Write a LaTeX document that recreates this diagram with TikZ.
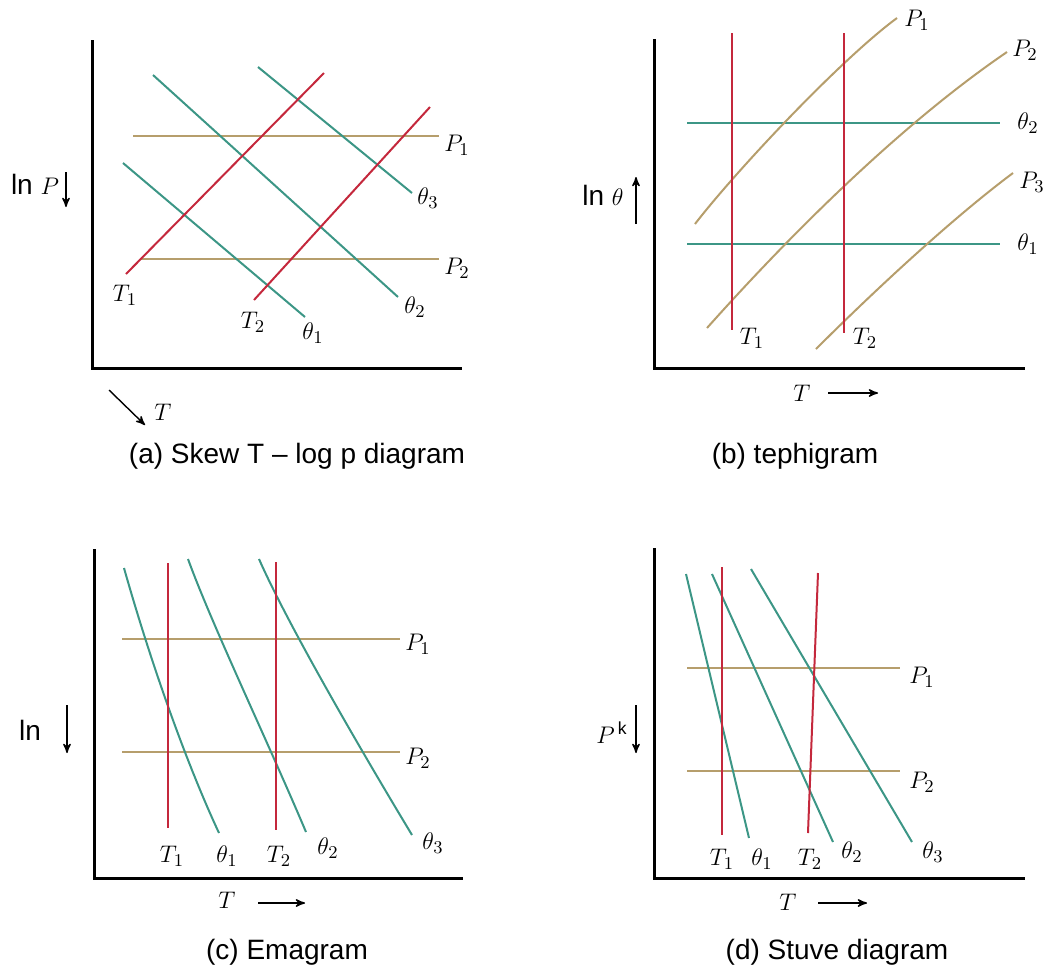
\documentclass[tikz,border=0pt]{standalone}
\usepackage{amsmath}
\usepackage{fontspec}
\setsansfont{Liberation Sans}
\usepackage{tikz}
\usetikzlibrary{arrows,calc}
\definecolor{tline}{RGB}{196,40,60}
\definecolor{thline}{RGB}{60,150,134}
\definecolor{pline}{RGB}{182,158,108}
\tikzset{axis/.style = {draw=black, line width=1.5pt, line join=miter},
         caption/.style = {font=\sffamily\fontsize{14}{16}\selectfont}}

\begin{document}
\begin{tikzpicture}[x=0.5pt, y=-0.5pt, iso/.style = {line width=1pt},
    lbl/.style = {font=\fontsize{12.5}{14}\selectfont, inner sep=0pt},
    dir/.style = {line width=0.7pt, -stealth'}]
\useasboundingbox (0,0) rectangle (1056,965);

% (a) skew T - log p
\draw[axis] (92,40) -- (92,368) -- (462,368);
\draw[iso, pline] (133,136) -- (439,136);
\draw[iso, pline] (140,259) -- (439,259);
\draw[iso, thline] (123,163) -- (305,317);
\draw[iso, thline] (153,75) -- (398,297);
\draw[iso, thline] (258,67) -- (412,193);
\draw[iso, tline] (126,274) -- (324,73);
\draw[iso, tline] (254,300) -- (430,107);
\node[lbl] (aP1) at (457,145) {$P_1$};
\node[lbl] (aP2) at (457,268) {$P_2$};
\node[lbl] (aT1) at (125,295) {$T_1$};
\node[lbl] (aT2) at (253,322) {$T_2$};
\node[lbl] (ath1) at (313,333) {$\theta_1$};
\node[lbl] (ath2) at (415,307) {$\theta_2$};
\node[lbl] (ath3) at (428,198) {$\theta_3$};
\node[caption] (ay) at (35,184) {ln \rmfamily\fontsize{13}{14}\selectfont$P$};
\draw[dir] (66,172) -- (66,207);
\draw[dir] (109,390) -- (145,425);
\node[lbl] (aT) at (163,412) {$T$};
\node[caption] (acap) at (297,456) {(a) Skew T – log p diagram};

% (b) tephigram
\draw[axis] (654,39) -- (654,368) -- (1025,368);
\draw[iso, thline] (687,123) -- (1000,123);
\draw[iso, thline] (687,244) -- (1000,244);
\draw[iso, pline] (695,224) .. controls (735,172) and (840,60) .. (897,18);
\draw[iso, pline] (707,328) .. controls (790,235) and (900,125) .. (1007,52);
\draw[iso, pline] (816,349) .. controls (870,295) and (950,220) .. (1013,173);
\draw[iso, tline] (732,33) -- (732,330);
\draw[iso, tline] (844,33) -- (844,333);
\node[lbl] (bP1) at (917,20) {$P_1$};
\node[lbl] (bP2) at (1025,50) {$P_2$};
\node[lbl] (bP3) at (1032,182) {$P_3$};
\node[lbl] (bth2) at (1028,123) {$\theta_2$};
\node[lbl] (bth1) at (1028,244) {$\theta_1$};
\node[lbl] (bT1) at (752,338) {$T_1$};
\node[lbl] (bT2) at (865,338) {$T_2$};
\node[caption] (by) at (603,195) {ln \rmfamily\fontsize{13}{14}\selectfont$\theta$};
\draw[dir] (636,224) -- (636,177);
\node[lbl] (bT) at (802,393) {$T$};
\draw[dir] (828,393) -- (878,393);
\node[caption] (bcap) at (795,456) {(b) tephigram};

% (c) emagram
\draw[axis] (94,549) -- (94,878) -- (463,878);
\draw[iso, pline] (122,639) -- (400,639);
\draw[iso, pline] (122,752) -- (400,752);
\draw[iso, thline] (124,568) .. controls (150,660) and (185,760) .. (219,833);
\draw[iso, thline] (188,559) .. controls (212,625) and (268,742) .. (306,832);
\draw[iso, thline] (259,559) .. controls (288,625) and (362,752) .. (412,835);
\draw[iso, tline] (168,563) -- (168,828);
\draw[iso, tline] (276,562) -- (276,830);
\node[lbl] (cP1) at (418,644) {$P_1$};
\node[lbl] (cP2) at (418,758) {$P_2$};
\node[lbl] (cT1) at (172,856) {$T_1$};
\node[lbl] (cT2) at (279,856) {$T_2$};
\node[lbl] (cth1) at (227,856) {$\theta_1$};
\node[lbl] (cth2) at (328,848) {$\theta_2$};
\node[lbl] (cth3) at (433,843) {$\theta_3$};
\node[caption] (cy) at (30,730) {ln};
\draw[dir] (67,705) -- (67,753);
\node[lbl] (cT) at (227,900) {$T$};
\draw[dir] (258,903) -- (305,903);
\node[caption] (ccap) at (287,952) {(c) Emagram};

% (d) stuve
\draw[axis] (654,548) -- (654,878) -- (1025,878);
\draw[iso, pline] (687,668) -- (900,668);
\draw[iso, pline] (687,771) -- (900,771);
\draw[iso, thline] (686,574) -- (749,838);
\draw[iso, thline] (712,574) -- (833,842);
\draw[iso, thline] (751,569) -- (912,842);
\draw[iso, tline] (722,567) -- (722,835);
\draw[iso, tline] (818,573) -- (808,833);
\node[lbl] (dP1) at (922,677) {$P_1$};
\node[lbl] (dP2) at (922,782) {$P_2$};
\node[lbl] (dT1) at (722,859) {$T_1$};
\node[lbl] (dT2) at (810,859) {$T_2$};
\node[lbl] (dth1) at (762,859) {$\theta_1$};
\node[lbl] (dth2) at (852,852) {$\theta_2$};
\node[lbl] (dth3) at (933,852) {$\theta_3$};
\node[lbl] (dy) at (612,733) {$P^{\,\mathsf{k}}$};
\draw[dir] (636,705) -- (636,753);
\node[lbl] (dT) at (788,902) {$T$};
\draw[dir] (818,903) -- (867,903);
\node[caption] (dcap) at (837,952) {(d) Stuve diagram};
\end{tikzpicture}
\end{document}
